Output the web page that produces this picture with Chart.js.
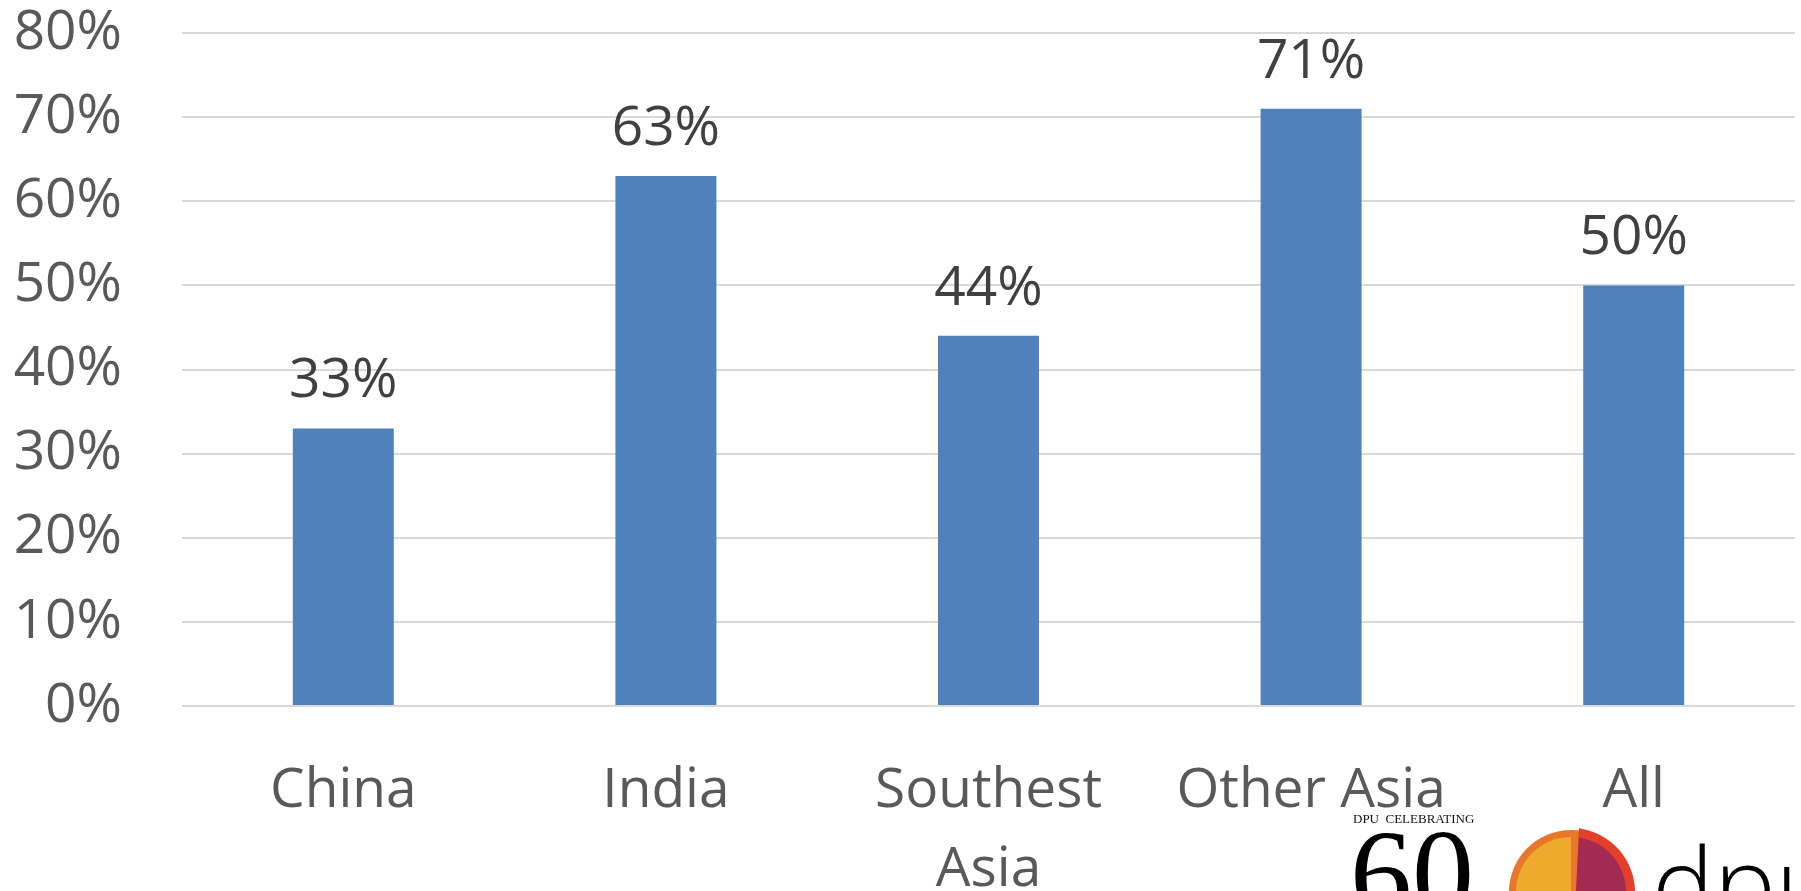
<!DOCTYPE html>
<html>
<head>
<meta charset="utf-8">
<script src="https://cdn.jsdelivr.net/npm/chart.js@4"></script>
<style>
  html, body { margin: 0; padding: 0; background: #ffffff; }
  #wrap { width: 1801px; height: 891px; position: relative; }
</style>
</head>
<body>
<div id="wrap"><canvas id="c"></canvas></div>
<script>
const categories = ['China', 'India', ['Southest', 'Asia'], 'Other Asia', 'All'];
const shareValues = [33, 63, 44, 71, 50];
const yTickValues = [0, 10, 20, 30, 40, 50, 60, 70, 80];

const FONT = "'Open Sans', sans-serif";

const dataLabelPlugin = {
  id: 'dataLabels',
  afterDatasetsDraw(chart) {
    const ctx = chart.ctx;
    const meta = chart.getDatasetMeta(0);
    ctx.save();
    ctx.fillStyle = '#404040';
    ctx.font = "55px " + FONT;
    ctx.textAlign = 'center';
    ctx.textBaseline = 'alphabetic';
    meta.data.forEach((bar, i) => {
      ctx.fillText(shareValues[i] + '%', bar.x, bar.y - 31);
    });
    ctx.restore();
  }
};

const logoPlugin = {
  id: 'logo',
  afterDraw(chart) {
    const ctx = chart.ctx;
    ctx.save();
    ctx.fillStyle = '#111';
    ctx.font = "13px 'Liberation Serif', serif";
    ctx.textBaseline = 'alphabetic';
    ctx.textAlign = 'left';
    ctx.fillText('DPU  CELEBRATING', 1353, 823);
    ctx.font = "124px 'Liberation Serif', serif";
    ctx.fillStyle = '#000';
    ctx.fillText('60', 1350, 916);
    // circle emblem
    const cx = 1571, cy = 892, r = 64;
    ctx.beginPath(); ctx.arc(cx, cy, r - 2, 0, Math.PI * 2); ctx.fillStyle = '#e9772b'; ctx.fill();
    ctx.beginPath(); ctx.arc(cx, cy, r - 9, Math.PI * 0.5, Math.PI * 1.5); ctx.fillStyle = '#eeaa2c'; ctx.fill();
    ctx.beginPath(); ctx.moveTo(cx + 2, cy + r); ctx.lineTo(cx + 8, cy - r);
    ctx.arc(cx, cy, r, -Math.PI * 0.45, Math.PI * 0.5); ctx.closePath();
    ctx.fillStyle = '#e33f2a'; ctx.fill();
    ctx.beginPath(); ctx.moveTo(cx + 2, cy + r - 8); ctx.lineTo(cx + 8, cy - r + 8);
    ctx.arc(cx, cy, r - 9, -Math.PI * 0.45, Math.PI * 0.5); ctx.closePath();
    ctx.fillStyle = '#a32a53'; ctx.fill();
    ctx.fillStyle = '#000';
    ctx.font = "300 104px 'Open Sans', sans-serif";
    ctx.fillText('dpu', 1652, 922);
    ctx.restore();
  }
};

new Chart(document.getElementById('c'), {
  type: 'bar',
  data: {
    labels: categories,
    datasets: [{
      data: shareValues,
      backgroundColor: '#4f81bd',
      borderWidth: 0,
      barPercentage: 0.626,
      categoryPercentage: 0.5
    }]
  },
  options: {
    responsive: true,
    maintainAspectRatio: false,
    animation: false,
    devicePixelRatio: 1,
    layout: { padding: { top: 33, right: 6, left: 0, bottom: 0 } },
    plugins: { legend: { display: false }, tooltip: { enabled: false } },
    scales: {
      x: {
        grid: { display: false, drawTicks: false },
        border: { display: false },
        ticks: {
          color: '#595959',
          font: { family: FONT, size: 55, lineHeight: 1.44 },
          padding: 46,
          maxRotation: 0,
          autoSkip: false
        },
        afterFit(scale) { scale.height = 185; scale.paddingLeft = 0; scale.paddingRight = 0; }
      },
      y: {
        min: 0,
        max: 80,
        afterBuildTicks(scale) { scale.ticks = yTickValues.map(v => ({ value: v })); },
        grid: { color: '#d9d9d9', lineWidth: 2, drawTicks: false },
        border: { display: false },
        ticks: {
          color: '#595959',
          font: { family: FONT, size: 55 },
          padding: 60,
          callback: v => v + '%'
        },
        afterFit(scale) { scale.width = 182; scale.paddingTop = 0; scale.paddingBottom = 0; }
      }
    }
  },
  plugins: [dataLabelPlugin, logoPlugin]
});
</script>
</body>
</html>
